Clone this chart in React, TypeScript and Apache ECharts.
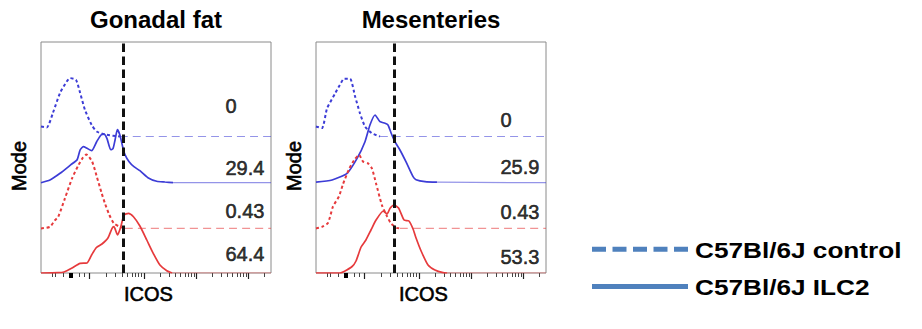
import { useEffect, useRef } from "react";
import * as echarts from "echarts";

const FONT = '"Liberation Sans", Arial, Helvetica, sans-serif';

const panelTitles = ["Gonadal fat", "Mesenteries"];
const xAxisName = "ICOS";
const yAxisName = "Mode";
const legendNames = ["C57Bl/6J control", "C57Bl/6J ILC2"];

// Histograms: [x on display scale 0–100, height above the histogram's own baseline]
const gonadalControlBlue = [[0, 10], [2.5, 9], [5.2, 23.7], [8.3, 43.7], [11.2, 55], [12.6, 58.4], [15.2, 56.7], [17, 43.7], [19.1, 26.7], [22, 11.7], [24.2, 5], [28.6, 1.7], [34.3, 0], [100, 0]];
const gonadalIlc2Blue = [[0, 0], [3.9, 2.7], [8.3, 9.4], [13, 18], [15.7, 23], [17, 32.7], [18.4, 36], [20, 34.4], [22, 32], [24.2, 41], [26.1, 47.7], [27.4, 48.5], [28.7, 44], [30.3, 33], [31.3, 34], [32.2, 42.7], [33.2, 53], [34.3, 47.7], [35.5, 36], [36.5, 28], [38.3, 21], [40.4, 16], [43, 12], [46.5, 5], [50.3, 1.5], [53.9, 0.7], [57.4, 0], [100, 0]];
const gonadalControlRed = [[0, 0], [3.9, 1.6], [6, 8], [7.5, 11.6], [10.4, 30], [13.5, 50], [16.2, 63], [18.3, 71], [19.7, 74], [22.2, 67], [24.1, 53], [26.4, 35], [27.8, 25], [29.6, 14], [31.7, 5], [34.3, 1.6], [36.5, 0], [100, 0]];
const gonadalIlc2Red = [[0, 0], [7.4, 0.3], [10, 1], [13.5, 5], [17, 9.7], [20, 10], [22, 18], [24.1, 25.5], [26.5, 29], [29.1, 35], [30.9, 44.7], [31.7, 46.3], [33.3, 38], [34.7, 46.3], [36.1, 58], [38, 59.7], [40.2, 56.3], [43, 47], [46, 33], [48.8, 19.7], [51.7, 8], [54.7, 2.3], [57, 0], [100, 0]];

const mesControlBlue = [[0, 10], [2.6, 8.4], [4.8, 28], [8.3, 43], [10.4, 51.7], [12.2, 57.7], [14.8, 57.7], [17, 40], [19.1, 23.4], [21.3, 10], [24.2, 3.4], [27.8, 0], [100, 0]];
const mesIlc2Blue = [[0, 0.5], [7, 2.7], [13.5, 9.4], [17.8, 24], [21.3, 41], [23.5, 58], [25.7, 67.7], [27.8, 61], [30, 59.4], [31.3, 57.7], [32.6, 50], [34.3, 41], [36.5, 32.7], [39.1, 21], [42.2, 6], [43.5, 3], [47.4, 1], [52.6, 0.5], [100, 0]];
const mesControlRed = [[0, 0], [2.6, 1.5], [5.2, 5.4], [7.4, 22], [10, 32], [11.7, 44], [14.3, 59], [16.5, 68], [18.7, 73.5], [20.4, 67], [22.6, 65], [24.3, 60], [26.1, 45], [28.7, 23], [30.9, 12], [32.6, 5], [35.2, 0.4], [36.5, 0], [100, 0]];
const mesIlc2Red = [[0, 0], [10.4, 0], [12.2, 1.5], [15.7, 6.5], [17.4, 12], [19.6, 26], [21.7, 33], [23.9, 43], [26.1, 53], [29.3, 62], [30.9, 59], [32.2, 64.7], [33.9, 68], [35.9, 65], [38.3, 53], [40.4, 52], [42.2, 44], [43.5, 35], [45.7, 22], [48.7, 8], [51.7, 3], [55.2, 0.3], [57, 0], [100, 0]];

// Offsets of the staggered histograms: control blue, ILC2 blue, control red, ILC2 red
const laneOffsets = [136.5, 90.3, 44.6, 0];
const yMax = 231;

const gates = [35.7, 34.0];
const gonadalPercents = ["0", "29.4", "0.43", "64.4"];
const mesPercents = ["0", "25.9", "0.43", "53.3"];
const gonadalPercentY = [167, 105, 62, 19];
const mesPercentY = [153, 106, 61, 16];
const percentX = 80;

// axis ticks (display scale 0–100)
const majorTicks = [21.0, 44.8, 67.6, 90.1];
const linearTicks = [4.7, 6.3, 9.6, 16.6, 18.8];
const zeroTick = [12.8];

const BLUE = "#3c3cd6";
const RED = "#e63a3c";
const LEGEND_BLUE = "#4f81bd";

function logMinorTicks(): number[] {
  const out: number[] = [];
  for (let i = 0; i < majorTicks.length; i++) {
    const w = i < majorTicks.length - 1 ? majorTicks[i + 1] - majorTicks[i] : majorTicks[i] - majorTicks[i - 1];
    for (let k = 2; k <= 9; k++) {
      const v = majorTicks[i] + Math.log10(k) * w;
      if (v < 100) out.push(+v.toFixed(2));
    }
  }
  return out;
}

export default function App() {
  const ref = useRef<HTMLDivElement>(null);
  useEffect(() => {
    if (!ref.current) return;
    const chart = echarts.init(ref.current, undefined, { renderer: "svg" });
    const panels = [
      { curves: [gonadalControlBlue, gonadalIlc2Blue, gonadalControlRed, gonadalIlc2Red], pcts: gonadalPercents, pctY: gonadalPercentY, gate: gates[0], left: 41 },
      { curves: [mesControlBlue, mesIlc2Blue, mesControlRed, mesIlc2Red], pcts: mesPercents, pctY: mesPercentY, gate: gates[1], left: 316 },
    ];
    const curveStyles = [
      { name: "control", color: BLUE, dashed: true },
      { name: "ILC2", color: BLUE, dashed: false },
      { name: "control", color: RED, dashed: true },
      { name: "ILC2", color: RED, dashed: false },
    ];
    const minor = [...linearTicks, ...logMinorTicks()];
    const grid: any[] = [];
    const xAxis: any[] = [];
    const yAxis: any[] = [];
    const series: any[] = [];
    const graphic: any[] = [];
    const heavyText = { color: "#000", fontFamily: FONT, textBorderColor: "#000", textBorderWidth: 0.6 };
    const hiddenAxis = {
      position: "bottom", offset: 0,
      axisLine: { show: false, onZero: false }, axisLabel: { show: false }, splitLine: { show: false },
    };

    panels.forEach((p, g) => {
      grid.push({ left: p.left, top: 42, width: 230, height: 231, show: true, borderColor: "#8a8a8a", borderWidth: 1, backgroundColor: "transparent" });
      xAxis.push({
        type: "value", gridIndex: g, min: 0, max: 100, ...hiddenAxis,
        name: xAxisName, nameLocation: "middle", nameGap: 11,
        nameTextStyle: { fontSize: 20, ...heavyText, padding: [0, 15, 0, 0] },
        axisTick: { show: true, inside: false, customValues: majorTicks, length: 6, lineStyle: { color: "#222", width: 1.2 } },
      });
      xAxis.push({
        type: "value", gridIndex: g, min: 0, max: 100, ...hiddenAxis,
        axisTick: { show: true, inside: false, customValues: minor, length: 4, lineStyle: { color: "#444", width: 1 } },
      });
      xAxis.push({
        type: "value", gridIndex: g, min: 0, max: 100, ...hiddenAxis,
        axisTick: { show: true, inside: false, customValues: zeroTick, length: 5, lineStyle: { color: "#000", width: 4 } },
      });
      yAxis.push({
        type: "value", gridIndex: g, min: 0, max: yMax,
        axisLine: { show: false }, axisLabel: { show: false }, splitLine: { show: false }, axisTick: { show: false },
        name: yAxisName, nameLocation: "middle", nameGap: 12,
        nameTextStyle: { fontSize: 20, ...heavyText, padding: [0, 17, 0, 0] },
      });
      p.curves.forEach((data, k) => {
        const st = curveStyles[k];
        const shifted = data.map(([x, y]) => [x, y + laneOffsets[k]]);
        const base = { type: "line", xAxisIndex: g * 3, yAxisIndex: g, symbol: "none", silent: true, smooth: 0.2, z: 3 };
        series.push({ ...base, name: `${panelTitles[g]} ${st.name} ${k}`, data: shifted.slice(0, -1), lineStyle: { color: st.color, width: st.dashed ? 2 : 1.7, type: st.dashed ? [3, 2.6] : "solid" } });
        series.push({ ...base, name: `${panelTitles[g]} ${st.name} ${k} tail`, data: shifted.slice(-2), lineStyle: { color: st.color, opacity: 0.55, width: 1.2, type: st.dashed ? [8, 5] : "solid" } });
      });
      series.push({
        type: "scatter", xAxisIndex: g * 3, yAxisIndex: g, symbolSize: 1, silent: true, z: 5,
        itemStyle: { color: "rgba(0,0,0,0)" },
        label: { show: true, position: "right", distance: 0, formatter: "{b}", fontSize: 20, ...heavyText },
        data: p.pcts.map((t, k) => ({ name: t, value: [percentX, p.pctY[k]] })),
        markLine: {
          silent: true, symbol: ["none", "none"], label: { show: false },
          lineStyle: { color: "#111", width: 3, type: [8.5, 4.5] },
          data: [{ xAxis: p.gate }],
        },
      });
      graphic.push({
        type: "text", x: p.left + 115, y: 19,
        style: { text: panelTitles[g], font: `bold 24px ${FONT}`, fill: "#000", align: "center", verticalAlign: "middle" },
      });
    });

    const legendY = [249.3, 286.5];
    legendNames.forEach((n, i) => {
      graphic.push({
        type: "line", shape: { x1: 592, y1: legendY[i], x2: 688, y2: legendY[i] },
        style: { stroke: LEGEND_BLUE, lineWidth: 5, lineDash: i === 0 ? [14, 6.5] : null },
      });
      graphic.push({
        type: "text", x: 695, y: legendY[i] + 0.5, scaleX: 1.19,
        style: { text: n, font: `bold 22px ${FONT}`, fill: "#000", align: "left", verticalAlign: "middle" },
      });
    });

    chart.setOption({ animation: false, backgroundColor: "#fff", grid, xAxis, yAxis, series, graphic });
    return () => chart.dispose();
  }, []);
  return <div ref={ref} style={{ position: "fixed", left: 0, top: 0, width: 922, height: 329 }} />;
}
